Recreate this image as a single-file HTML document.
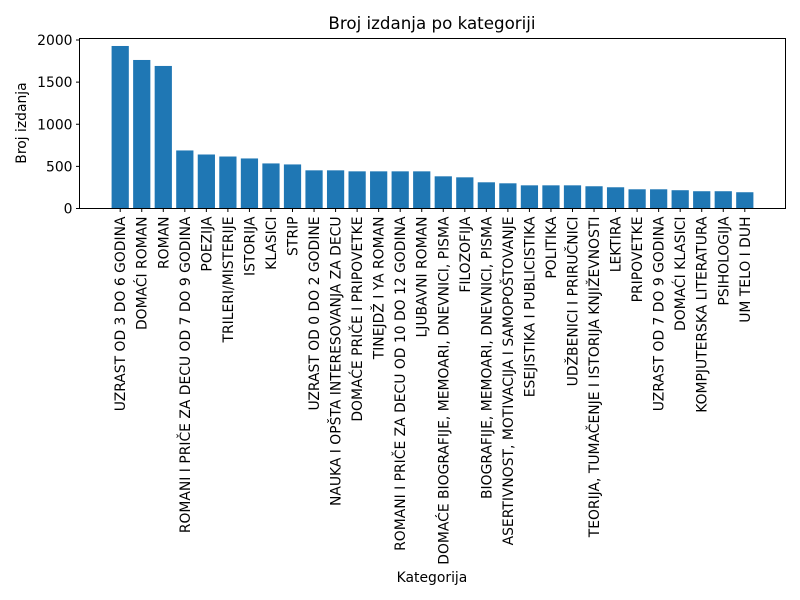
<!DOCTYPE html>
<html><head><meta charset="utf-8"><style>
body{margin:0;background:#fff;}
svg{display:block;font-family:"DejaVu Sans","Liberation Sans",sans-serif;}
</style></head><body>
<svg id="chart" width="800" height="600">
<rect width="800" height="600" fill="#fff"/>
<text x="432" y="29" text-anchor="middle" font-size="16.7" fill="#000">Broj izdanja po kategoriji</text>
<g id="bars"></g><g id="xt"></g><g id="yt"></g>
<rect x="79.5" y="38.5" width="706" height="170" fill="none" stroke="#000" stroke-width="1"/>
<text x="432" y="582" text-anchor="middle" font-size="13.9">Kategorija</text>
<text transform="translate(26,123) rotate(-90)" text-anchor="middle" font-size="13.9">Broj izdanja</text>
</svg>
<script>
const categories=["UZRAST OD 3 DO 6 GODINA","DOMAĆI ROMAN","ROMAN","ROMANI I PRIČE ZA DECU OD 7 DO 9 GODINA","POEZIJA","TRILERI/MISTERIJE","ISTORIJA","KLASICI","STRIP","UZRAST OD 0 DO 2 GODINE","NAUKA I OPŠTA INTERESOVANJA ZA DECU","DOMAĆE PRIČE I PRIPOVETKE","TINEJDŽ I YA ROMAN","ROMANI I PRIČE ZA DECU OD 10 DO 12 GODINA","LJUBAVNI ROMAN","DOMAĆE BIOGRAFIJE, MEMOARI, DNEVNICI, PISMA","FILOZOFIJA","BIOGRAFIJE, MEMOARI, DNEVNICI, PISMA","ASERTIVNOST, MOTIVACIJA I SAMOPOŠTOVANJE","ESEJISTIKA I PUBLICISTIKA","POLITIKA","UDŽBENICI I PRIRUČNICI","TEORIJA, TUMAČENJE I ISTORIJA KNJIŽEVNOSTI","LEKTIRA","PRIPOVETKE","UZRAST OD 7 DO 9 GODINA","DOMAĆI KLASICI","KOMPJUTERSKA LITERATURA","PSIHOLOGIJA","UM TELO I DUH"];
const values=[1929,1763,1692,689,641,617,594,535,523,453,453,441,441,441,441,382,370,311,299,275,275,275,264,252,228,228,217,205,205,193];
const yTicks=[0,500,1000,1500,2000];
const NS="http://www.w3.org/2000/svg";
const L=79.5,R=785.5,T=38.5,B=208.5;
const n=categories.length,x0=-0.4-(n-0.2)*0.05,x1=n-1+0.4+(n-0.2)*0.05;
const xs=v=>L+(v-x0)/(x1-x0)*(R-L);
const ys=v=>B-v/2000*(B-T-1.5);
const bw=0.8*(R-L)/(x1-x0);
const gb=document.getElementById('bars'),gx=document.getElementById('xt'),gy=document.getElementById('yt');
function mk(t,a,p){const e=document.createElementNS(NS,t);for(const k in a)e.setAttribute(k,a[k]);p.appendChild(e);return e;}
values.forEach((v,i)=>{
const r=mk('rect',{x:xs(i)-bw/2,y:ys(v),width:bw,height:B-ys(v),fill:'#1f77b4'},gb);


const tk=mk('line',{x1:xs(i),x2:xs(i),y1:B,y2:B+3.5,stroke:'#000'},gx);


const t=mk('text',{transform:`translate(${xs(i)+5},${B+8}) rotate(-90)`,'text-anchor':'end','font-size':'13.9'},gx);
t.textContent=categories[i];


});
yTicks.forEach(v=>{
const tk=mk('line',{x1:L-3.5,x2:L,y1:ys(v),y2:ys(v),stroke:'#000'},gy);


const t=mk('text',{x:L-7,y:ys(v)+5,'text-anchor':'end','font-size':'13.9'},gy);
t.textContent=v;


});
</script>
</body></html>
